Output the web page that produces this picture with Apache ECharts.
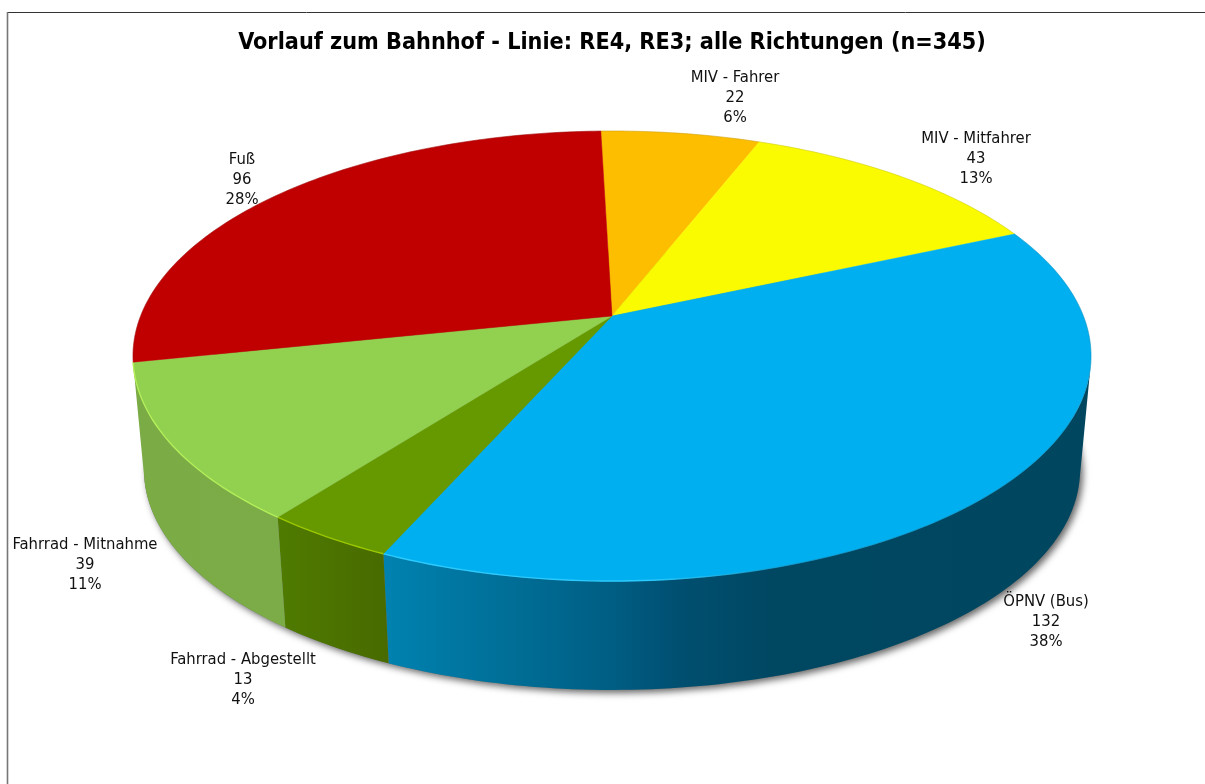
<!DOCTYPE html>
<html><head><meta charset="utf-8">
<style>html,body{margin:0;padding:0;background:#fff}#c{width:1205px;height:784px}</style>
<script src="https://cdn.jsdelivr.net/npm/echarts@6/dist/echarts.min.js"></script>
</head><body><div id="c"></div>
<script>
const categories = ['MIV - Fahrer','MIV - Mitfahrer','ÖPNV (Bus)','Fahrrad - Abgestellt','Fahrrad - Mitnahme','Fuß'];
const counts = [22,43,132,13,39,96];
const percentLabels = ['6%','13%','38%','4%','11%','28%'];
const titleText = 'Vorlauf zum Bahnhof - Linie: RE4, RE3; alle Richtungen (n=345)';

// styling / layout, separate from the data
const topColors = ['#FDBE00','#FAFA00','#00AFEF','#669900','#92D050','#C00000'];
const rimColors = [null,null,'#2CCBFF','#9CC800','#B4F05A',null];
const sideStops = [
  null,
  null,
  [[0,'#0082B0'],[0.2,'#006C94'],[0.32,'#005E84'],[0.42,'#004F70'],[0.55,'#004762'],[1,'#00465F']],
  [[0,'#4F7B00'],[1,'#486A00']],
  [[0,'#7AAB45'],[1,'#7CAC47']],
  null
];
const labelAnchors = [[735,98],[976,159],[1046,622],[243,680],[85,565],[242,180]];
const P = {cx:612, cy:316, A:471.4, B:217.9, k:0.1778, start:-1.6, botScale:0.977, botCy:431, sideFrom:103, sideTo:257};

const total = counts.reduce((a,b)=>a+b,0);
const spans = []; let acc = P.start;
counts.forEach(v=>{ const s=v/total*360; spans.push([acc,acc+s]); acc+=s; });

function rimTop(deg){
  const t=deg*Math.PI/180, u=Math.sin(t), v=Math.cos(t), w=1+P.k*v;
  return [P.cx+P.A*u/w, P.cy-P.B*v/w];
}
function rimBot(deg){
  const p=rimTop(deg);
  return [P.cx+P.botScale*(p[0]-P.cx), P.botCy+P.botScale*(p[1]-P.cy)];
}
function arc(fn,a,b){
  const out=[], n=Math.max(2,Math.ceil(Math.abs(b-a)));
  for(let i=0;i<=n;i++) out.push(fn(a+(b-a)*i/n));
  return out;
}

function renderBase(params,api){
  if(params.dataIndex!==0) return {type:'group',children:[]};
  return {type:'polygon',shape:{points:arc(rimBot,0,360)},
    style:{fill:'#777',shadowBlur:7,shadowColor:'rgba(0,0,0,0.6)',shadowOffsetX:3,shadowOffsetY:3},silent:true};
}
function renderSide(params,api){
  const i=params.dataIndex;
  if(!sideStops[i]) return {type:'group',children:[]};
  const a=Math.max(spans[i][0],P.sideFrom), b=Math.min(spans[i][1],P.sideTo);
  const pts=arc(rimTop,a,b).concat(arc(rimBot,b,a));
  const xs=pts.map(p=>p[0]);
  const grad=new echarts.graphic.LinearGradient(Math.min(...xs),0,Math.max(...xs),0,
    sideStops[i].map(s=>({offset:s[0],color:s[1]})),true);
  return {type:'polygon',shape:{points:pts},style:{fill:grad},silent:true};
}
function renderTop(params,api){
  const i=params.dataIndex, sp=spans[i];
  const pts=[[P.cx,P.cy]].concat(arc(rimTop,sp[0],sp[1]));
  const children=[{type:'polygon',shape:{points:pts},style:{fill:topColors[i],stroke:topColors[i],lineWidth:0.5}}];
  children.push({type:'polyline',shape:{points:arc(rimTop,sp[0],sp[1])},
    style:{fill:null,stroke:'rgba(60,60,60,0.14)',lineWidth:1}});
  if(rimColors[i]){
    const r=[Math.max(sp[0],125),Math.min(sp[1],259)];
    const line=arc(rimTop,r[0],r[1]);
    const xs=line.map(p=>p[0]), x0=Math.min(...xs), x1=Math.max(...xs);
    const stroke = i===2
      ? new echarts.graphic.LinearGradient(x0,0,x1,0,[{offset:0,color:rimColors[i]},{offset:0.4,color:rimColors[i]},{offset:0.63,color:'rgba(44,203,255,0)'},{offset:1,color:'rgba(44,203,255,0)'}],true)
      : rimColors[i];
    children.push({type:'polyline',shape:{points:line},style:{fill:null,stroke:stroke,lineWidth:1.4}});
  }
  return {type:'group',children:children,silent:true};
}
function renderLabel(params,api){
  const i=params.dataIndex, a=labelAnchors[i];
  return {type:'text',x:a[0],y:a[1],silent:true,style:{
    text:categories[i]+'\n'+api.value(1)+'\n'+percentLabels[i],
    fill:'#111',font:'16.5px "DejaVu Sans Condensed"',align:'center',verticalAlign:'middle',lineHeight:20}};
}
const seriesData = categories.map((c,i)=>({name:c,value:[i,counts[i]]}));
const mk=(fn,z)=>({type:'custom',coordinateSystem:'none',renderItem:fn,data:seriesData,z:z,animation:false,clip:false});

const chart=echarts.init(document.getElementById('c'),null,{renderer:'canvas'});
chart.setOption({
  animation:false,
  backgroundColor:'#fff',
  title:{text:titleText,left:607,top:26,textAlign:'center',
    textStyle:{fontFamily:'DejaVu Sans Condensed',fontWeight:'bold',fontSize:23.2,color:'#000'}},
  graphic:[
    {type:'line',shape:{x1:7,y1:12.5,x2:1205,y2:12.5},style:{stroke:'#333',lineWidth:1}},
    {type:'line',shape:{x1:7.5,y1:12,x2:7.5,y2:784},style:{stroke:'#777',lineWidth:1.6}}
  ],
  series:[mk(renderBase,1),mk(renderSide,2),mk(renderTop,3),mk(renderLabel,4)]
});
</script></body></html>
